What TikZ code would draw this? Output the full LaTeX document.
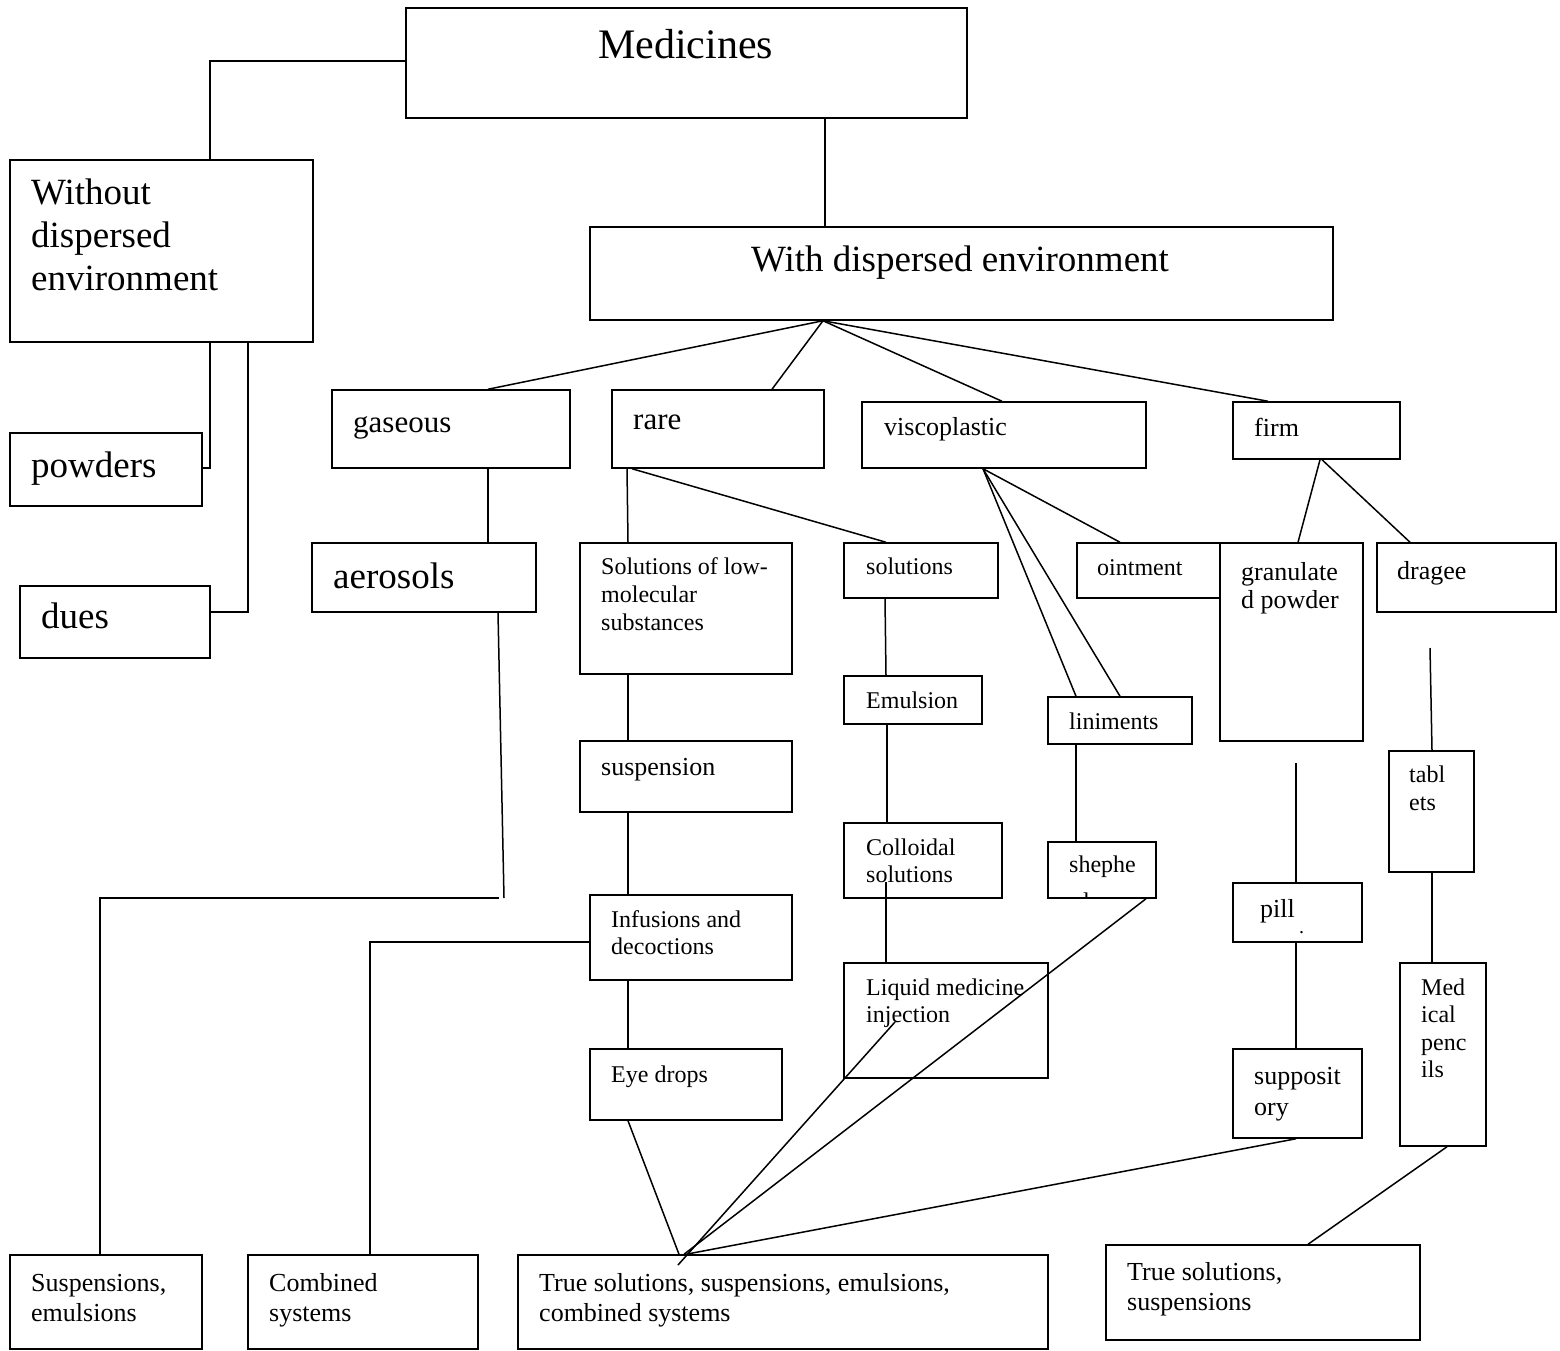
\documentclass[tikz,border=0pt]{standalone}
\usepackage{fontspec}
\setmainfont{Liberation Serif}
\usetikzlibrary{fit}

\tikzset{
  box/.style={draw, line width=1.5pt, inner sep=0pt, fit={#1}},
  link/.style={line width=1.5pt},
  lbl/.style={anchor=north west, inner sep=0pt, align=left},
}
% a framed box given by its top-left and bottom-right corners
\newcommand\bx[3]{\node[box={#2 #3}] (#1) {};}
% a text block: name, left edge, first baseline, font size, leading, text
\newcommand\lbl[6]{\node[lbl, font=\fontsize{#4}{#5}\selectfont] (#1) at (#2,{#3-0.7*#5}) {\strut #6};}

\begin{document}
\begin{tikzpicture}[x=1pt, y=-1pt]
\useasboundingbox (0,0) rectangle (1560,1351);

% ---------- boxes ----------
\bx{med}{(406,8)}{(967,118)}
\bx{wo}{(10,160)}{(313,342)}
\bx{wd}{(590,227)}{(1333,320)}
\bx{gas}{(332,390)}{(570,468)}
\bx{rare}{(612,390)}{(824,468)}
\bx{visc}{(862,402)}{(1146,468)}
\bx{firm}{(1233,402)}{(1400,459)}
\bx{pow}{(10,433)}{(202,506)}
\bx{dues}{(20,586)}{(210,658)}
\bx{aer}{(312,543)}{(536,612)}
\bx{slm}{(580,543)}{(792,674)}
\bx{sol}{(844,543)}{(998,598)}
\bx{oint}{(1077,543)}{(1220,598)}
\bx{gran}{(1220,543)}{(1363,741)}
\bx{drag}{(1377,543)}{(1556,612)}
\bx{emu}{(844,676)}{(982,724)}
\bx{lin}{(1048,697)}{(1192,744)}
\bx{susp}{(580,741)}{(792,812)}
\bx{tab}{(1389,751)}{(1474,872)}
\bx{coll}{(844,823)}{(1002,898)}
\bx{shep}{(1048,842)}{(1156,898)}
\bx{pill}{(1233,883)}{(1362,942)}
\bx{inf}{(590,895)}{(792,980)}
\bx{liq}{(844,963)}{(1048,1078)}
\bx{pen}{(1400,963)}{(1486,1146)}
\bx{eye}{(590,1049)}{(782,1120)}
\bx{supp}{(1233,1049)}{(1362,1138)}
\bx{se}{(10,1255)}{(202,1349)}
\bx{cs}{(248,1255)}{(478,1349)}
\bx{tsc}{(518,1255)}{(1048,1349)}
\bx{ts}{(1106,1245)}{(1420,1340)}

% ---------- texts ----------
\lbl{medT}{598}{58}{42}{48}{Medicines}
\lbl{woT}{31}{204}{37}{43}{Without\\dispersed\\environment}
\lbl{wdT}{751}{271}{37}{43}{With dispersed environment}
\lbl{gasT}{353}{432}{31}{36}{gaseous}
\lbl{rareT}{633}{429}{31}{36}{rare}
\lbl{viscT}{884}{435}{26}{30}{viscoplastic}
\lbl{firmT}{1254}{436}{26}{30}{firm}
\lbl{powT}{31}{477}{37}{43}{powders}
\lbl{duesT}{41}{628}{37}{43}{dues}
\lbl{aerT}{333}{588}{37}{43}{aerosols}
\lbl{slmT}{601}{574}{24}{28}{Solutions of low-\\molecular\\substances}
\lbl{solT}{866}{574}{24}{28}{solutions}
\lbl{ointT}{1097}{575}{24}{28}{ointment}
\lbl{granT}{1241}{580}{26}{28}{granulate\\d powder}
\lbl{dragT}{1397}{579}{26}{30}{dragee}
\lbl{emuT}{866}{708}{24}{28}{Emulsion}
\lbl{linT}{1069}{729}{24}{28}{liniments}
\lbl{suspT}{601}{775}{26}{30}{suspension}
\lbl{tabT}{1409}{782}{24}{28}{tabl\\ets}
\lbl{collT}{866}{855}{24}{27}{Colloidal\\solutions}
\lbl{shepT}{1069}{872}{24}{28}{shephe}
\begin{scope}
  \clip (shep.south west) rectangle (shep.north east);
  \lbl{shepR}{1069}{909}{24}{28}{rd}
\end{scope}
\lbl{pillT}{1260}{917}{26}{30}{pill}
\lbl{pillD}{1299}{933}{20}{24}{.}
\lbl{infT}{611}{927}{24}{27}{Infusions and\\decoctions}
\lbl{liqT}{866}{995}{24}{27}{Liquid medicine\\injection}
\lbl{penT}{1421}{995}{24}{27.4}{Med\\ical\\penc\\ils}
\lbl{eyeT}{611}{1082}{24}{28}{Eye drops}
\lbl{suppT}{1254}{1084}{26}{31}{supposit\\ory}
\lbl{seT}{31}{1291}{26}{30}{Suspensions,\\emulsions}
\lbl{csT}{269}{1291}{26}{30}{Combined\\systems}
\lbl{tscT}{539}{1291}{26}{30}{True solutions, suspensions, emulsions,\\combined systems}
\lbl{tsT}{1127}{1280}{26}{30}{True solutions,\\suspensions}

% ---------- connectors ----------
\draw[link] (med.west |- 0,61) -| (wo.north -| 210,0);
\draw[link] (med.south -| 825,0) -- (wd.north -| 825,0);
\draw[link] (wo.south -| 210,0) |- (pow.east |- 0,468);
\draw[link] (wo.south -| 248,0) |- (dues.east |- 0,612);

\coordinate (hub) at (wd.south -| 823,0);
\draw[link] (hub) -- (gas.north -| 488,0);
\draw[link] (hub) -- (rare.north -| 772,0);
\draw[link] (hub) -- (visc.north -| 1002,0);
\draw[link] (hub) -- (firm.north -| 1268,0);

\draw[link] (gas.south -| 488,0) -- (aer.north -| 488,0);
\coordinate (aerEnd) at (504,898);
\coordinate (seBend) at (499,898);
\draw[link] (aer.south -| 498,0) -- (aerEnd);
\draw[link] (seBend) -| (se.north -| 100,0);

\draw[link] (rare.south -| 627,0) -- (slm.north -| 628,0);
\draw[link] (rare.south -| 632,0) -- (sol.north -| 886,0);
\draw[link] (slm.south -| 628,0) -- (susp.north -| 628,0);
\draw[link] (susp.south -| 628,0) -- (inf.north -| 628,0);
\draw[link] (inf.west |- 0,942) -| (cs.north -| 370,0);
\draw[link] (inf.south -| 628,0) -- (eye.north -| 628,0);
\draw[link] (eye.south -| 628,0) -- (tsc.north -| 679,0);

\draw[link] (sol.south -| 885,0) -- (emu.north -| 886,0);
\draw[link] (emu.south -| 887,0) -- (coll.north -| 887,0);
\coordinate (collIn) at (886,882);
\draw[link] (collIn) -- (liq.north -| 886,0);
\coordinate (liqIn) at (895,1022);
\coordinate (liqEnd) at (678,1265);
\draw[link] (liqIn) -- (liqEnd);

\coordinate (vh) at (visc.south -| 983,0);
\draw[link] (vh) -- (oint.north -| 1120,0);
\draw[link] (vh) -- (lin.north -| 1076,0);
\draw[link] (vh) -- (lin.north -| 1120,0);
\draw[link] (lin.south -| 1076,0) -- (shep.north -| 1076,0);
\draw[link] (shep.south -| 1146,0) -- (tsc.north -| 684,0);

\draw[link] (firm.south -| 1320,0) -- (gran.north -| 1298,0);
\draw[link] (firm.south -| 1322,0) -- (drag.north -| 1410,0);
\coordinate (granEnd) at (1296,763);
\draw[link] (granEnd) -- (pill.north -| 1296,0);
\draw[link] (pill.south -| 1296,0) -- (supp.north -| 1296,0);
\draw[link] (supp.south -| 1296,0) -- (tsc.north -| 686,0);

\coordinate (dragEnd) at (1430,648);
\draw[link] (dragEnd) -- (tab.north -| 1432,0);
\draw[link] (tab.south -| 1432,0) -- (pen.north -| 1432,0);
\draw[link] (pen.south -| 1447,0) -- (ts.north -| 1308,0);
\end{tikzpicture}
\end{document}
